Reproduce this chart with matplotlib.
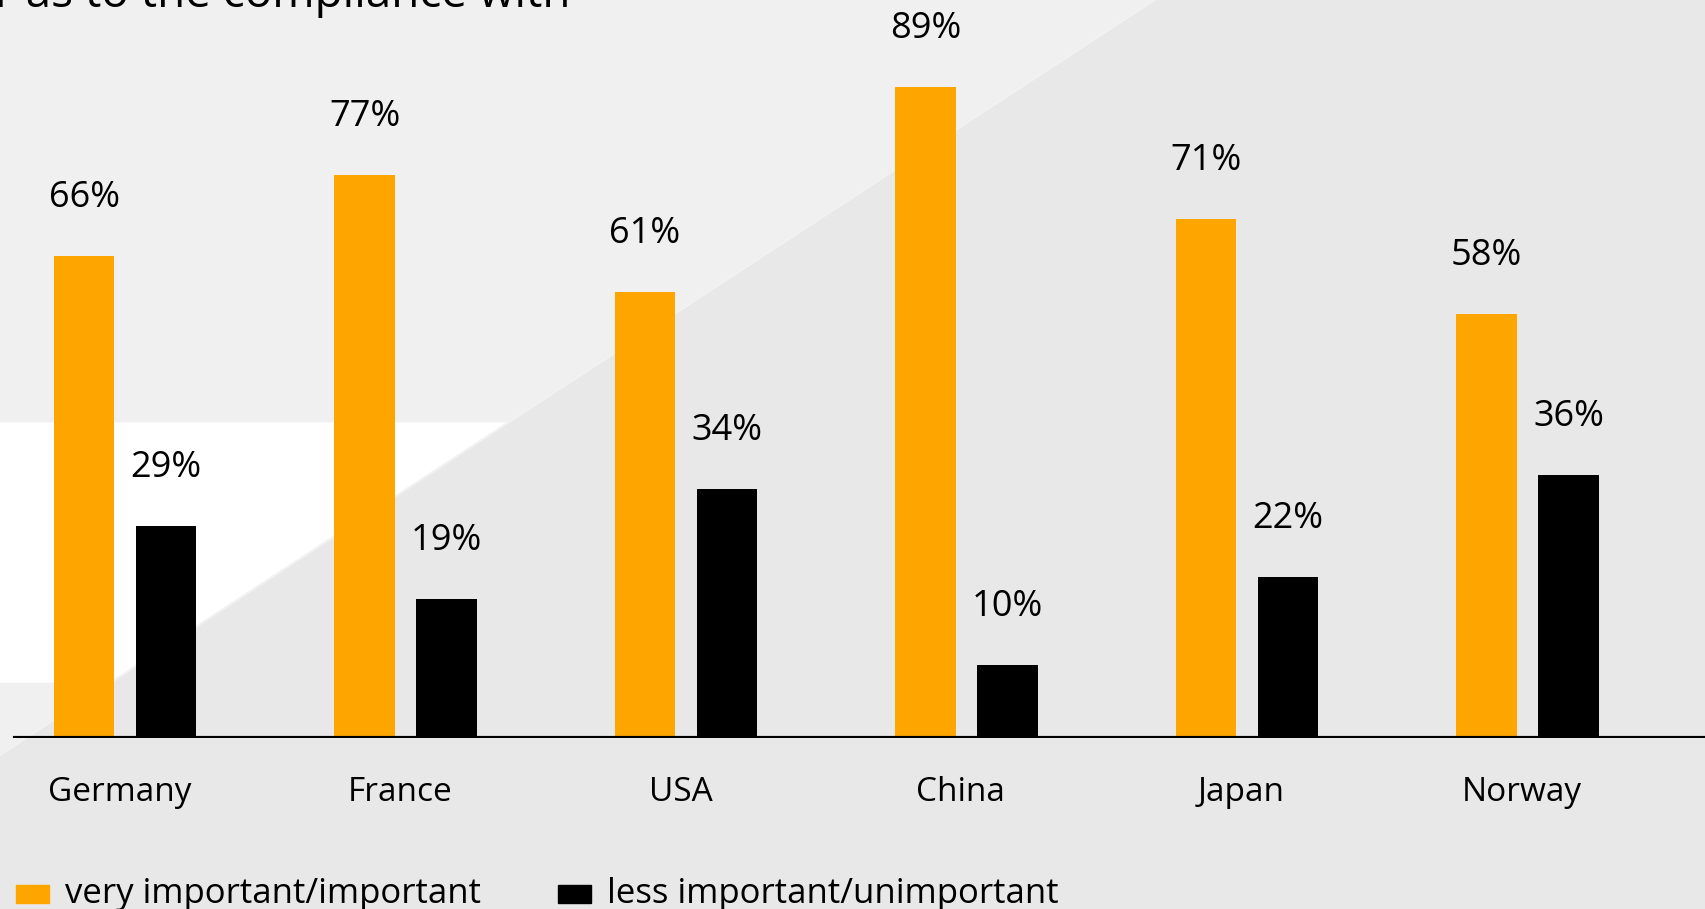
import numpy as np
import matplotlib
matplotlib.use('Agg')
import matplotlib.pyplot as plt
from matplotlib.patches import Polygon, Rectangle

plt.rcParams['font.family'] = ['Open Sans', 'DejaVu Sans']

countries = ['Germany', 'France', 'USA', 'China', 'Japan', 'Norway']
important = [66, 77, 61, 89, 71, 58]
less_important = [29, 19, 34, 10, 22, 36]
series_names = ['very important/important', 'less important/unimportant']

ORANGE = '#ffa500'
W, H = 1706, 909

fig = plt.figure(figsize=(W / 100, H / 100), dpi=100)

# backdrop in pixel units (y grows downwards)
bg = fig.add_axes([0, 0, 1, 1], zorder=0)
bg.set_xlim(0, W)
bg.set_ylim(H, 0)
bg.axis('off')
bg.add_patch(Rectangle((0, 0), W, H, color='#f0f0f0'))


def diag_x(y):
    return (755 - y) / 0.654


bg.add_patch(Polygon([(0, 423), (diag_x(423), 423), (diag_x(682), 682), (0, 682)],
                     color='white'))
bg.add_patch(Polygon([(0, 755), (diag_x(0), 0), (W, 0), (W, H), (0, H)],
                     color='#e8e8e8'))
bg.plot([0, diag_x(0)], [755, 0], color='#f2f2f2', lw=1.5)

bg.text(-5, 7, 'r as to the compliance with', fontsize=33, va='baseline')

# legend
bg.add_patch(Rectangle((16, 885), 33, 18, color=ORANGE))
bg.text(65, 903, series_names[0], fontsize=25, va='baseline')
bg.add_patch(Rectangle((558, 885), 33, 18, color='black'))
bg.text(607, 903, series_names[1], fontsize=25, va='baseline')

# bars
ax = fig.add_axes([0, 171 / H, 1, 731 / H], zorder=1)
ax.patch.set_alpha(0)
x = np.arange(len(countries))
off, bw = 0.146, 0.216
ax.bar(x - off, important, width=bw, color=ORANGE)
ax.bar(x + off, less_important, width=bw, color='black')
ax.set_xlim(-125 / 280.5, (W - 125) / 280.5)
ax.set_ylim(0, 100)
ax.axhline(0, xmin=15 / W, color='black', lw=3)

for i, (a, b) in enumerate(zip(important, less_important)):
    ax.text(i - off, a + 6.7, f'{a}%', ha='center', va='baseline', fontsize=26)
    ax.text(i + off, b + 6.7, f'{b}%', ha='center', va='baseline', fontsize=26)
    ax.text(i - 0.02, -8.6, countries[i], ha='center', va='baseline', fontsize=24)

ax.axis('off')

fig.savefig('out.png', dpi=100)
